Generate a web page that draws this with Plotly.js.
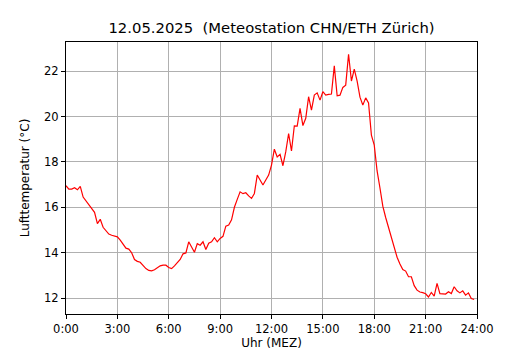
<!DOCTYPE html>
<html>
<head>
<meta charset="utf-8">
<script src="https://cdn.plot.ly/plotly-3.0.1.min.js"></script>
<style>html,body{margin:0;padding:0;background:#fff;}#chart{width:530px;height:350px;}</style>
</head>
<body>
<div id="chart"></div>
<script>
// 10-minute temperature readings, 12.05.2025, from 0:00
const stepMinutes = 10;
const temperature = [
  16.95, 16.80, 16.80, 16.86, 16.77, 16.92, 16.45, 16.28, 16.10, 15.95, 15.78, 15.28,
  15.47, 15.12, 14.98, 14.82, 14.77, 14.74, 14.70, 14.55, 14.35, 14.20, 14.16, 14.00,
  13.70, 13.62, 13.58, 13.45, 13.30, 13.22, 13.20, 13.25, 13.32, 13.42, 13.45, 13.45,
  13.35, 13.30, 13.42, 13.58, 13.70, 13.95, 13.99, 14.48, 14.23, 14.02, 14.40, 14.33,
  14.48, 14.14, 14.42, 14.48, 14.66, 14.48, 14.63, 14.72, 15.17, 15.22, 15.45, 16.00,
  16.35, 16.68, 16.60, 16.64, 16.50, 16.39, 16.61, 17.42, 17.20, 16.98, 17.20, 17.42,
  17.86, 18.56, 18.22, 18.33, 17.83, 18.45, 19.25, 18.48, 19.59, 19.58, 20.36, 19.60,
  19.92, 20.87, 20.28, 20.94, 21.04, 20.72, 21.09, 20.94, 20.97, 20.99, 22.23, 20.91,
  20.94, 21.28, 21.38, 22.74, 21.56, 22.09, 21.56, 20.85, 20.50, 20.82, 20.60, 19.18,
  18.74, 17.60, 16.85, 16.05, 15.55, 15.13, 14.62, 14.30, 13.80, 13.50, 13.26, 13.19,
  12.94, 12.94, 12.55, 12.35, 12.27, 12.24, 12.19, 12.05, 12.25, 12.09, 12.65, 12.20,
  12.18, 12.18, 12.28, 12.20, 12.50, 12.32, 12.23, 12.32, 12.13, 12.23, 11.98, 11.94
];
const tickHours = [0, 3, 6, 9, 12, 15, 18, 21, 24];
const tickLabels = ["0:00", "3:00", "6:00", "9:00", "12:00", "15:00", "18:00", "21:00", "24:00"];
const yTicks = [12, 14, 16, 18, 20, 22];

const hours = temperature.map((_, i) => i * stepMinutes / 60);

const font = "DejaVu Sans, sans-serif";
Plotly.newPlot("chart", [{
  x: hours, y: temperature, type: "scatter", mode: "lines",
  line: {color: "#ff0000", width: 1.2}, hoverinfo: "skip"
}], {
  width: 530, height: 350,
  margin: {l: 66, r: 53, t: 42, b: 36},
  paper_bgcolor: "#ffffff", plot_bgcolor: "#ffffff",
  font: {family: font, color: "#000", size: 11.5},
  showlegend: false,
  title: {text: "12.05.2025\u00a0\u00a0(Meteostation CHN/ETH Zürich)", font: {family: font, size: 14.8, color: "#000"},
          x: 0.5, xanchor: "center", xref: "paper", y: 1 - 28/350, yref: "container", yanchor: "middle"},
  xaxis: {
    range: [0, 24], tickvals: tickHours, ticktext: tickLabels, tickmode: "array",
    showgrid: true, gridcolor: "#b0b0b0", gridwidth: 1,
    showline: true, linecolor: "#000", linewidth: 1, mirror: true,
    ticks: "outside", ticklen: 4, tickcolor: "#000", tickwidth: 1,
    tickfont: {family: font, size: 11.5}, zeroline: false,
    title: {text: "Uhr (MEZ)", font: {family: font, size: 12}, standoff: 6}
  },
  yaxis: {
    range: [11.3, 23.28], tickvals: yTicks, tickmode: "array",
    showgrid: true, gridcolor: "#b0b0b0", gridwidth: 1,
    showline: true, linecolor: "#000", linewidth: 1, mirror: true,
    ticks: "outside", ticklen: 4, tickcolor: "#000", tickwidth: 1,
    tickfont: {family: font, size: 11.5}, zeroline: false,
    title: {text: "Lufttemperatur (°C)", font: {family: font, size: 12}, standoff: 11}
  }
}, {staticPlot: true});
</script>
</body>
</html>
